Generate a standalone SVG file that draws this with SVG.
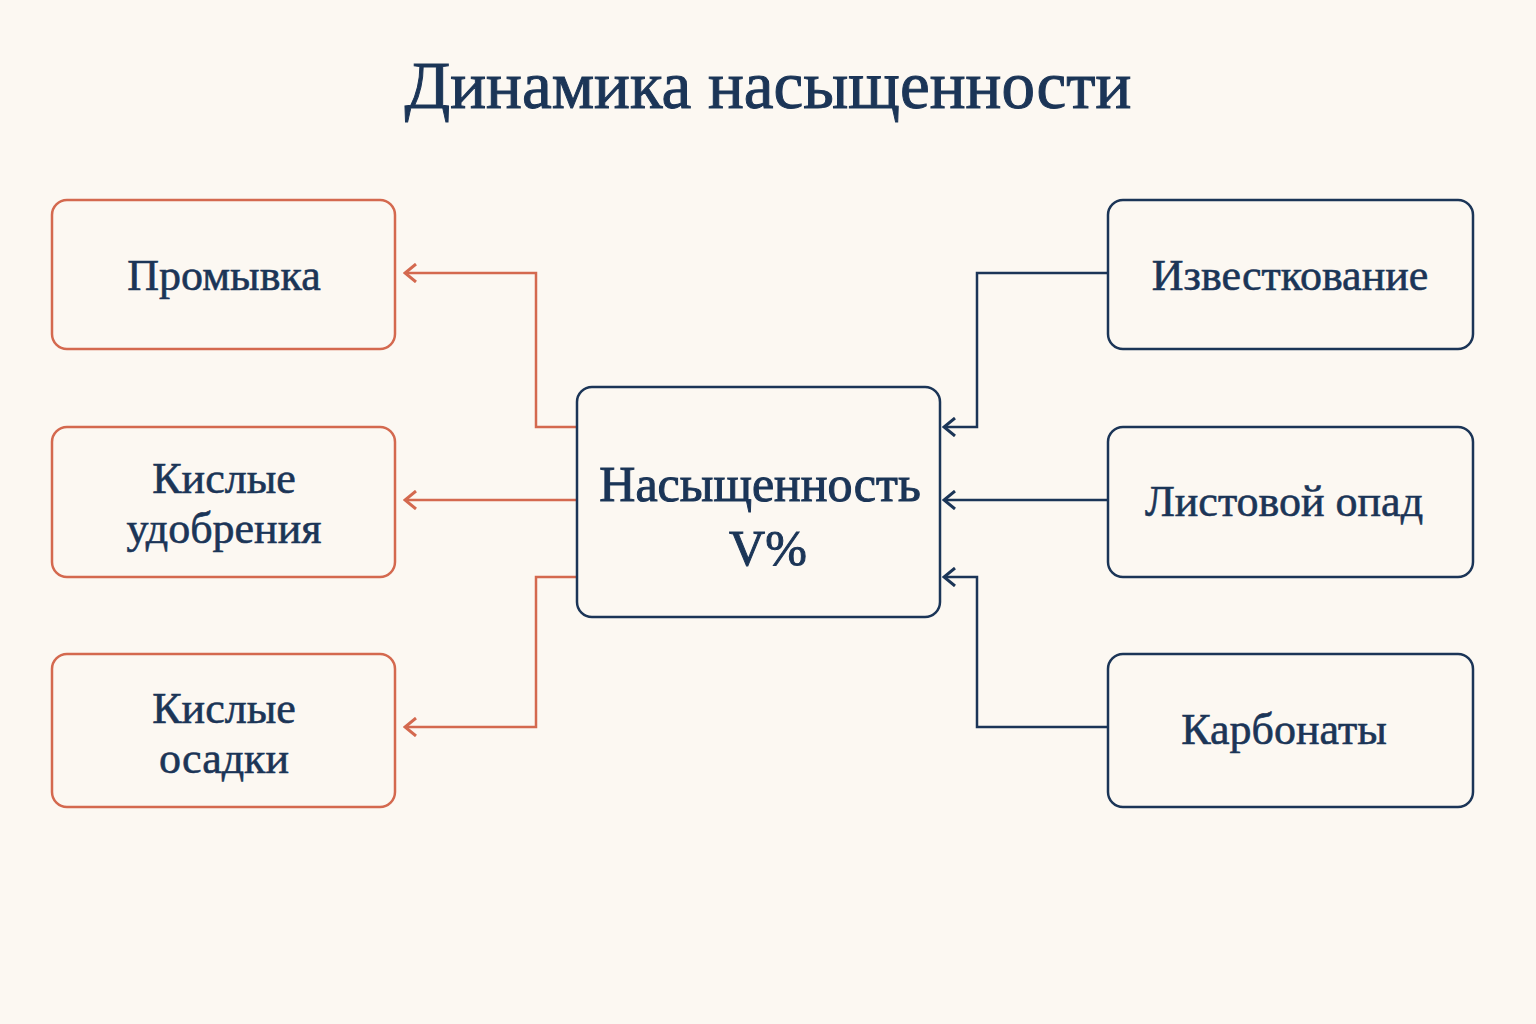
<svg xmlns="http://www.w3.org/2000/svg" width="1536" height="1024" viewBox="0 0 1536 1024">
<defs>
<style>
.t{font-family:"Liberation Serif","DejaVu Serif",serif;fill:#1b3557;text-anchor:middle;stroke:#1b3557;stroke-width:0.6}
.lb{fill:none;stroke:#d4694f;stroke-width:2.5}
.rb{fill:none;stroke:#1b3557;stroke-width:2.5}
.lc{fill:none;stroke:#d4694f;stroke-width:2.5}
.rc{fill:none;stroke:#1b3557;stroke-width:2.5}
</style>
<marker id="ao" markerWidth="14" markerHeight="20" refX="12" refY="10" orient="auto" markerUnits="userSpaceOnUse"><path d="M1,1 L12,10 L1,19" fill="none" stroke="#d4694f" stroke-width="3"/></marker>
<marker id="an" markerWidth="14" markerHeight="20" refX="12" refY="10" orient="auto" markerUnits="userSpaceOnUse"><path d="M1,1 L12,10 L1,19" fill="none" stroke="#1b3557" stroke-width="3"/></marker>
</defs>
<rect width="1536" height="1024" fill="#fcf8f2"/>
<text class="t" x="768" y="108" font-size="67" style="stroke-width:1">Динамика насыщенности</text>
<g id="connectors">
<path class="lc" d="M577,427 H536 V273 H405" marker-end="url(#ao)"/>
<path class="lc" d="M577,500 H405" marker-end="url(#ao)"/>
<path class="lc" d="M577,577 H536 V727 H405" marker-end="url(#ao)"/>
<path class="rc" d="M1108,273 H977 V427 H944" marker-end="url(#an)"/>
<path class="rc" d="M1108,500 H944" marker-end="url(#an)"/>
<path class="rc" d="M1108,727 H977 V577 H944" marker-end="url(#an)"/>
</g>
<g id="n-promyvka"><rect class="lb" x="52" y="200" width="343" height="149" rx="15"/><text class="t" x="224" y="290" font-size="44">Промывка</text></g>
<g id="n-kisl-udob"><rect class="lb" x="52" y="427" width="343" height="150" rx="15"/><text class="t" x="224" y="493" font-size="44">Кислые</text><text class="t" x="224" y="543" font-size="44">удобрения</text></g>
<g id="n-kisl-osad"><rect class="lb" x="52" y="654" width="343" height="153" rx="15"/><text class="t" x="224" y="723" font-size="44">Кислые</text><text class="t" x="224" y="773" font-size="44">осадки</text></g>
<g id="n-center"><rect class="rb" x="577" y="387" width="363" height="230" rx="15"/><text class="t" x="760" y="501" font-size="50" style="stroke-width:1">Насыщенность</text><text class="t" x="768" y="565" font-size="50" style="stroke-width:1">V%</text></g>
<g id="n-izvest"><rect class="rb" x="1108" y="200" width="365" height="149" rx="15"/><text class="t" x="1290" y="290" font-size="44">Известкование</text></g>
<g id="n-listovoy"><rect class="rb" x="1108" y="427" width="365" height="150" rx="15"/><text class="t" x="1284" y="516" font-size="44">Листовой опад</text></g>
<g id="n-karbonaty"><rect class="rb" x="1108" y="654" width="365" height="153" rx="15"/><text class="t" x="1284" y="744" font-size="44">Карбонаты</text></g>
</svg>
